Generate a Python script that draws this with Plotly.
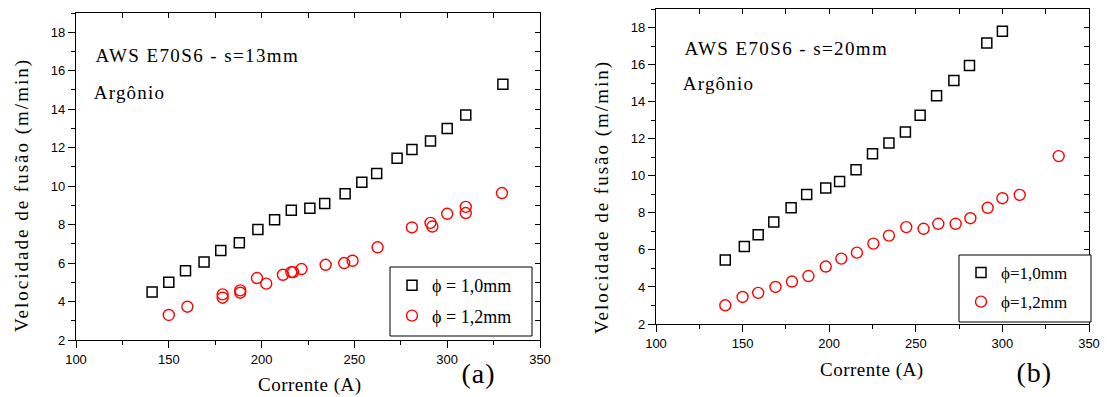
import plotly.graph_objects as go

W, H = 1107, 397

# ---------------- data ----------------
# Panel (a): s = 13 mm
a_x_10 = [141, 150, 159, 169, 178, 188, 198, 207, 216, 226, 234, 245, 254, 262, 273, 281, 291, 300, 310, 330]
a_y_10 = [4.5, 5.0, 5.6, 6.05, 6.65, 7.05, 7.75, 8.25, 8.75, 8.85, 9.1, 9.6, 10.2, 10.65, 11.45, 11.9, 12.35, 13.0, 13.7, 15.3]
a_x_12 = [150, 160, 179, 179, 188.5, 188.5, 197.5, 202.5, 211.5, 216, 217, 221.5, 234.5, 244.5, 249,
          262.5, 281, 291, 292, 300, 310, 310, 329.5]
a_y_12 = [3.3, 3.73, 4.37, 4.2, 4.58, 4.46, 5.22, 4.93, 5.39, 5.53, 5.53, 5.69, 5.91, 6.0, 6.12,
          6.82, 7.85, 8.09, 7.9, 8.56, 8.92, 8.6, 9.64]

# Panel (b): s = 20 mm
b_x_10 = [140, 151, 159, 168, 178, 187, 198, 206, 215.5, 225, 234.5, 244, 252.5, 262, 272, 281, 291, 300]
b_y_10 = [5.46, 6.18, 6.81, 7.51, 8.27, 8.99, 9.34, 9.69, 10.32, 11.19, 11.77, 12.36, 13.26, 14.32, 15.14, 15.95, 17.17, 17.8]
b_x_12 = [140, 150, 159, 169, 178.5, 188, 198, 207, 216, 225.5, 234.5, 244.5, 254.5, 263, 273, 281.5, 291.5, 300, 310, 332.5]
b_y_12 = [3.01, 3.46, 3.68, 4.0, 4.29, 4.59, 5.1, 5.53, 5.85, 6.34, 6.77, 7.23, 7.14, 7.41, 7.41, 7.71, 8.27, 8.79, 8.97, 11.06]

a_names = ["\u03d5 = 1,0mm", "\u03d5 = 1,2mm"]
b_names = ["\u03d5=1,0mm", "\u03d5=1,2mm"]

x_range = [100, 350]
y_range = [2, 19]

x_title = "Corrente (A)"
y_title = "Velocidade de fusão (m/min)"
a_label1 = "AWS E70S6 - s=13mm"
b_label1 = "AWS E70S6 - s=20mm"
gas_label = "Argônio"

SERIF = "Liberation Serif"
SANS = "Liberation Sans"

fig = go.Figure()

sq = dict(symbol="square-open", size=10, color="black", line=dict(width=1.5, color="black"))
ci = dict(symbol="circle-open", size=11, color="red", line=dict(width=1.4, color="red"))

fig.add_trace(go.Scatter(x=a_x_10, y=a_y_10, mode="markers", marker=sq, name=a_names[0],
                         xaxis="x", yaxis="y", legend="legend", legendgroup="a1"))
fig.add_trace(go.Scatter(x=a_x_12, y=a_y_12, mode="markers", marker=ci, name=a_names[1],
                         xaxis="x", yaxis="y", legend="legend", legendgroup="a2"))
fig.add_trace(go.Scatter(x=b_x_10, y=b_y_10, mode="markers", marker=sq, name=b_names[0],
                         xaxis="x2", yaxis="y2", legend="legend2", legendgroup="b1"))
fig.add_trace(go.Scatter(x=b_x_12, y=b_y_12, mode="markers", marker=ci, name=b_names[1],
                         xaxis="x2", yaxis="y2", legend="legend2", legendgroup="b2"))


def base_axis(domain, rng, dtick, mdtick, anchor):
    return dict(domain=domain, range=rng, dtick=dtick, tick0=0, anchor=anchor,
                ticks="outside", ticklen=7, tickwidth=1.2, tickcolor="black",
                showline=True, linecolor="black", linewidth=1.4,
                showgrid=False, zeroline=False, automargin=False,
                tickfont=dict(family=SANS, size=13, color="black"),
                minor=dict(dtick=mdtick, tick0=0, ticks="outside", ticklen=4, tickwidth=1.2,
                           tickcolor="black", showgrid=False))


def mirror_axis(over, anchor, side, rng, dtick, mdtick):
    return dict(overlaying=over, anchor=anchor, side=side, range=rng, dtick=dtick, tick0=0,
                ticks="inside", ticklen=5, tickwidth=1.2, tickcolor="black",
                showline=True, linecolor="black", linewidth=1.4,
                showgrid=False, zeroline=False, showticklabels=False, automargin=False,
                minor=dict(dtick=mdtick, tick0=0, ticks="inside", ticklen=5, tickwidth=1.2,
                           tickcolor="black", showgrid=False))


ax_dom = [76 / W, 540 / W]
ay_dom = [1 - 340 / H, 1 - 13 / H]
bx_dom = [656 / W, 1089 / W]
by_dom = [1 - 324 / H, 1 - 9 / H]

fig.update_layout(
    width=W, height=H,
    margin=dict(l=0, r=0, t=0, b=0, autoexpand=False),
    paper_bgcolor="white", plot_bgcolor="white",
    xaxis=base_axis(ax_dom, x_range, 50, 25, "y"),
    yaxis=base_axis(ay_dom, y_range, 2, 1, "x"),
    xaxis2=base_axis(bx_dom, x_range, 50, 25, "y2"),
    yaxis2=base_axis(by_dom, y_range, 2, 1, "x2"),
    xaxis3=mirror_axis("x", "y", "top", x_range, 50, 25),
    yaxis3=mirror_axis("y", "x", "right", y_range, 2, 1),
    xaxis4=mirror_axis("x2", "y2", "top", x_range, 50, 25),
    yaxis4=mirror_axis("y2", "x2", "right", y_range, 2, 1),
    legend=dict(x=392 / W, xanchor="left", y=1 - 267 / H, yanchor="top",
                borderwidth=0, bgcolor="rgba(0,0,0,0)",
                font=dict(family=SERIF, size=18, color="black"),
                traceorder="grouped", tracegroupgap=4, itemwidth=30),
    legend2=dict(x=961 / W, xanchor="left", y=1 - 255 / H, yanchor="top",
                 borderwidth=0, bgcolor="rgba(0,0,0,0)",
                 font=dict(family=SERIF, size=17, color="black"),
                 traceorder="grouped", tracegroupgap=4, itemwidth=30),
    showlegend=True,
    shapes=[
        dict(type="rect", xref="paper", yref="paper", x0=390 / W, x1=532 / W,
             y0=1 - 336 / H, y1=1 - 267 / H, line=dict(color="black", width=1),
             fillcolor="white", layer="above"),
        dict(type="rect", xref="paper", yref="paper", x0=959 / W, x1=1091 / W,
             y0=1 - 322 / H, y1=1 - 255 / H, line=dict(color="black", width=1),
             fillcolor="white", layer="above"),
    ],
)

# dummy traces so overlay axes render
for xa, ya in (("x3", "y3"), ("x4", "y4")):
    fig.add_trace(go.Scatter(x=[None], y=[None], xaxis=xa, yaxis=ya, showlegend=False,
                             hoverinfo="skip", mode="markers"))

annots = []
spacing = []


def add_text(text, px, py, size, sp, angle=0):
    annots.append(dict(text=text, x=px / W, y=1 - py / H, xref="paper", yref="paper",
                       xanchor="center", yanchor="middle", showarrow=False, textangle=angle,
                       font=dict(family=SERIF, size=size, color="black")))
    spacing.append(sp)


add_text(y_title, 22, 195, 19, 2.0, -90)
add_text(y_title, 602, 197, 19, 2.0, -90)
add_text(x_title, 310, 385, 19, 0.5)
add_text(x_title, 872, 370, 19, 0.5)
add_text("(a)", 478, 373, 28, 1.0)
add_text("(b)", 1034, 372, 28, 1.0)
add_text(a_label1, 197, 56, 19, 1.4)
add_text(gas_label, 129.5, 92, 19, 1.2)
add_text(b_label1, 786, 49, 19, 1.4)
add_text(gas_label, 718.5, 84, 19, 1.2)

fig.update_layout(annotations=annots)

sp_js = "{" + ",".join('"%d":"%.1fpx"' % (i, s) for i, s in enumerate(spacing)) + "}"
post = """
document.body.style.margin = '0';
var sp = %s;
var gd = document.getElementsByClassName('plotly-graph-div')[0];
gd.querySelectorAll('g.annotation').forEach(function(g){
  var i = g.getAttribute('data-index');
  if (sp[i]) { g.querySelectorAll('text').forEach(function(t){ t.style.letterSpacing = sp[i]; }); }
});
""" % sp_js

fig.write_html("out.html", post_script=post, config={"displayModeBar": False})
